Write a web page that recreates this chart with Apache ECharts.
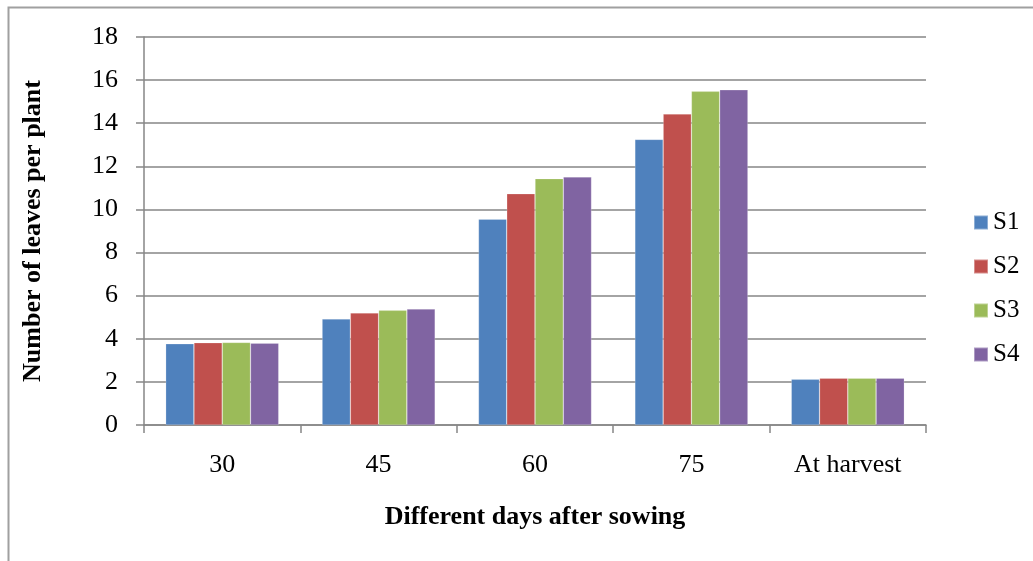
<!DOCTYPE html>
<html>
<head>
<meta charset="utf-8">
<script src="https://cdn.jsdelivr.net/npm/echarts@6/dist/echarts.min.js"></script>
<style>
  html, body { margin: 0; padding: 0; background: #fff; }
  #chart { width: 1033px; height: 561px; }
</style>
</head>
<body>
<div id="chart"></div>
<script>
// Leaves per plant at different days after sowing
const categories = ['30', '45', '60', '75', 'At harvest'];
const seriesNames = ['S1', 'S2', 'S3', 'S4'];
const s1 = [3.77, 4.92, 9.55, 13.25, 2.12];
const s2 = [3.82, 5.20, 10.73, 14.43, 2.17];
const s3 = [3.83, 5.32, 11.43, 15.48, 2.17];
const s4 = [3.80, 5.38, 11.51, 15.55, 2.17];
const yTicks = [0, 2, 4, 6, 8, 10, 12, 14, 16, 18];

const colors = ['#4F81BD', '#C0504D', '#9BBB59', '#8064A2'];
const font = '"Liberation Serif", "Times New Roman", serif';
const axisGray = '#868686';
const fs = 26;

const chart = echarts.init(document.getElementById('chart'), null, { renderer: 'canvas' });

const values = [s1, s2, s3, s4];
const series = seriesNames.map((name, i) => ({
  name,
  type: 'bar',
  data: values[i],
  barGap: '0%',
  barCategoryGap: '27.7%',
  itemStyle: { color: colors[i], borderColor: 'rgba(255,255,255,0.35)', borderWidth: 0.6 },
  emphasis: { disabled: true }
}));

chart.setOption({
  animation: false,
  backgroundColor: '#fff',
  color: colors,
  graphic: [{
    type: 'rect',
    shape: { x: 8.5, y: 7.5, width: 1100, height: 700 },
    style: { fill: 'none', stroke: '#a0a0a0', lineWidth: 2 },
    silent: true,
    z: -10
  }],
  grid: { left: 144, right: 107, top: 37, bottom: 136, containLabel: false },
  legend: {
    orient: 'vertical',
    left: 968,
    top: 205,
    itemWidth: 14,
    itemHeight: 14,
    itemGap: 19,
    icon: 'rect',
    textStyle: { fontFamily: font, fontSize: 25, color: '#000' },
    data: seriesNames
  },
  xAxis: {
    type: 'category',
    data: categories,
    name: 'Different days after sowing',
    nameLocation: 'middle',
    nameGap: 79,
    nameTextStyle: { fontFamily: font, fontSize: fs, fontWeight: 'bold', color: '#000' },
    axisLine: { lineStyle: { color: axisGray, width: 1.5 } },
    axisTick: { show: true, length: 8, alignWithLabel: false, lineStyle: { color: axisGray, width: 1.5 } },
    axisLabel: { fontFamily: font, fontSize: fs, color: '#000', margin: 27 }
  },
  yAxis: {
    type: 'value',
    min: yTicks[0],
    max: yTicks[yTicks.length - 1],
    interval: yTicks[1] - yTicks[0],
    name: 'Number of leaves per plant',
    nameLocation: 'middle',
    nameGap: 98,
    nameRotate: 90,
    nameTextStyle: { fontFamily: font, fontSize: fs, fontWeight: 'bold', color: '#000' },
    axisLine: { show: true, lineStyle: { color: axisGray, width: 1.5 } },
    axisTick: { show: true, length: 8, lineStyle: { color: axisGray, width: 1.5 } },
    axisLabel: { fontFamily: font, fontSize: fs, color: '#000', margin: 26 },
    splitLine: { show: true, lineStyle: { color: axisGray, width: 1.5 } }
  },
  series
});
</script>
</body>
</html>
